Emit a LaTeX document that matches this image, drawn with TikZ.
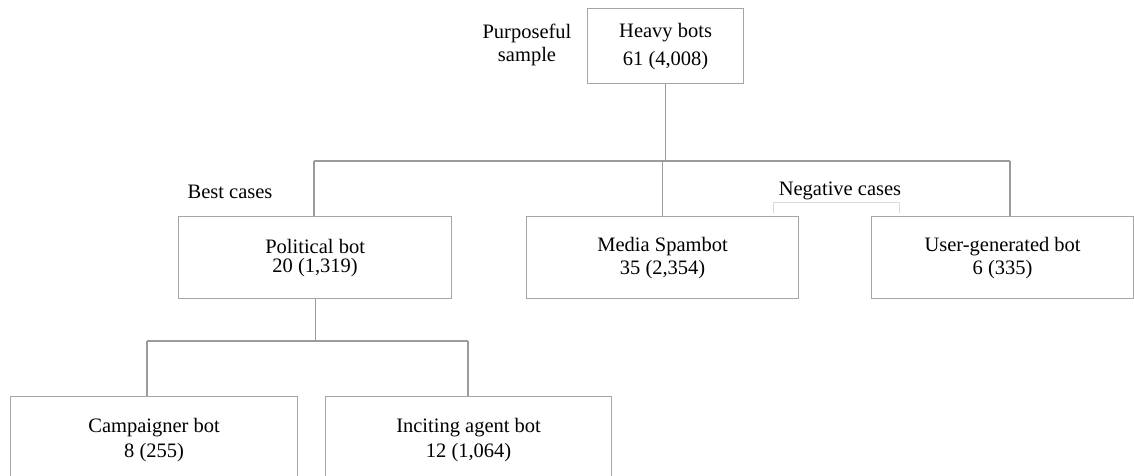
\documentclass[tikz,border=0pt]{standalone}
\usepackage{fontspec}
\setmainfont{Liberation Serif}
\definecolor{boxgray}{RGB}{165,165,165}
\definecolor{linkgray}{RGB}{155,155,155}
\definecolor{brackgray}{RGB}{218,218,218}
\begin{document}
\begin{tikzpicture}[x=1pt,y=-1pt,
  box/.style={draw=boxgray, line width=1.2pt, inner sep=0pt, align=center,
    anchor=north west, font=\fontsize{20.5}{23}\selectfont},
  link/.style={draw=linkgray, line width=1.1pt},
  lbl/.style={inner sep=0pt, align=center, font=\fontsize{20.5}{23}\selectfont}]
\clip (0,0) rectangle (1134,475);
% boxes
\node[box, minimum width=156pt, minimum height=75pt,
  font=\fontsize{20.5}{28}\selectfont] (heavy) at (587,8) {Heavy bots\\61 (4,008)};
\node[box, minimum width=273pt, minimum height=82pt,
  font=\fontsize{20.5}{19}\selectfont] (political) at (178,216) {Political bot\\20 (1,319)};
\node[box, minimum width=272pt, minimum height=82pt] (media) at (526,216) {Media Spambot\\35 (2,354)};
\node[box, minimum width=262pt, minimum height=82pt] (user) at (871,216) {User-generated bot\\6 (335)};
\node[box, minimum width=287pt, minimum height=86pt,
  font=\fontsize{20.5}{25}\selectfont] (camp) at (10,396) {Campaigner bot\\8 (255)};
\node[box, minimum width=286pt, minimum height=86pt,
  font=\fontsize{20.5}{25}\selectfont] (incite) at (325,396) {Inciting agent bot\\12 (1,064)};
% labels
\node[lbl] (purp) at (527,45) {Purposeful\\sample};
\node[lbl, anchor=base] (best) at (230,198) {Best cases};
\node[lbl, anchor=base] (neg) at (840,195) {Negative cases};
\draw[brackgray, line width=1pt] (773,213) -- (773,202) -- (899,202) -- (899,213);
% tree connectors
\coordinate (tl) at (314,161);
\coordinate (tr) at (1010,161);
\coordinate (bl) at (147,341);
\coordinate (br) at (468,341);
\draw[link] (heavy.south) -- (heavy.south |- tl);
\draw[link] (tl) -- (tr);
\draw[link] (tl) -- (tl |- political.north);
\draw[link] (media.north) -- (media.north |- tl);
\draw[link] (tr) -- (tr |- user.north);
\draw[link] (political.south) -- (political.south |- bl);
\draw[link] (bl) -- (br);
\draw[link] (bl) -- (bl |- camp.north);
\draw[link] (br) -- (br |- incite.north);
\end{tikzpicture}
\end{document}
